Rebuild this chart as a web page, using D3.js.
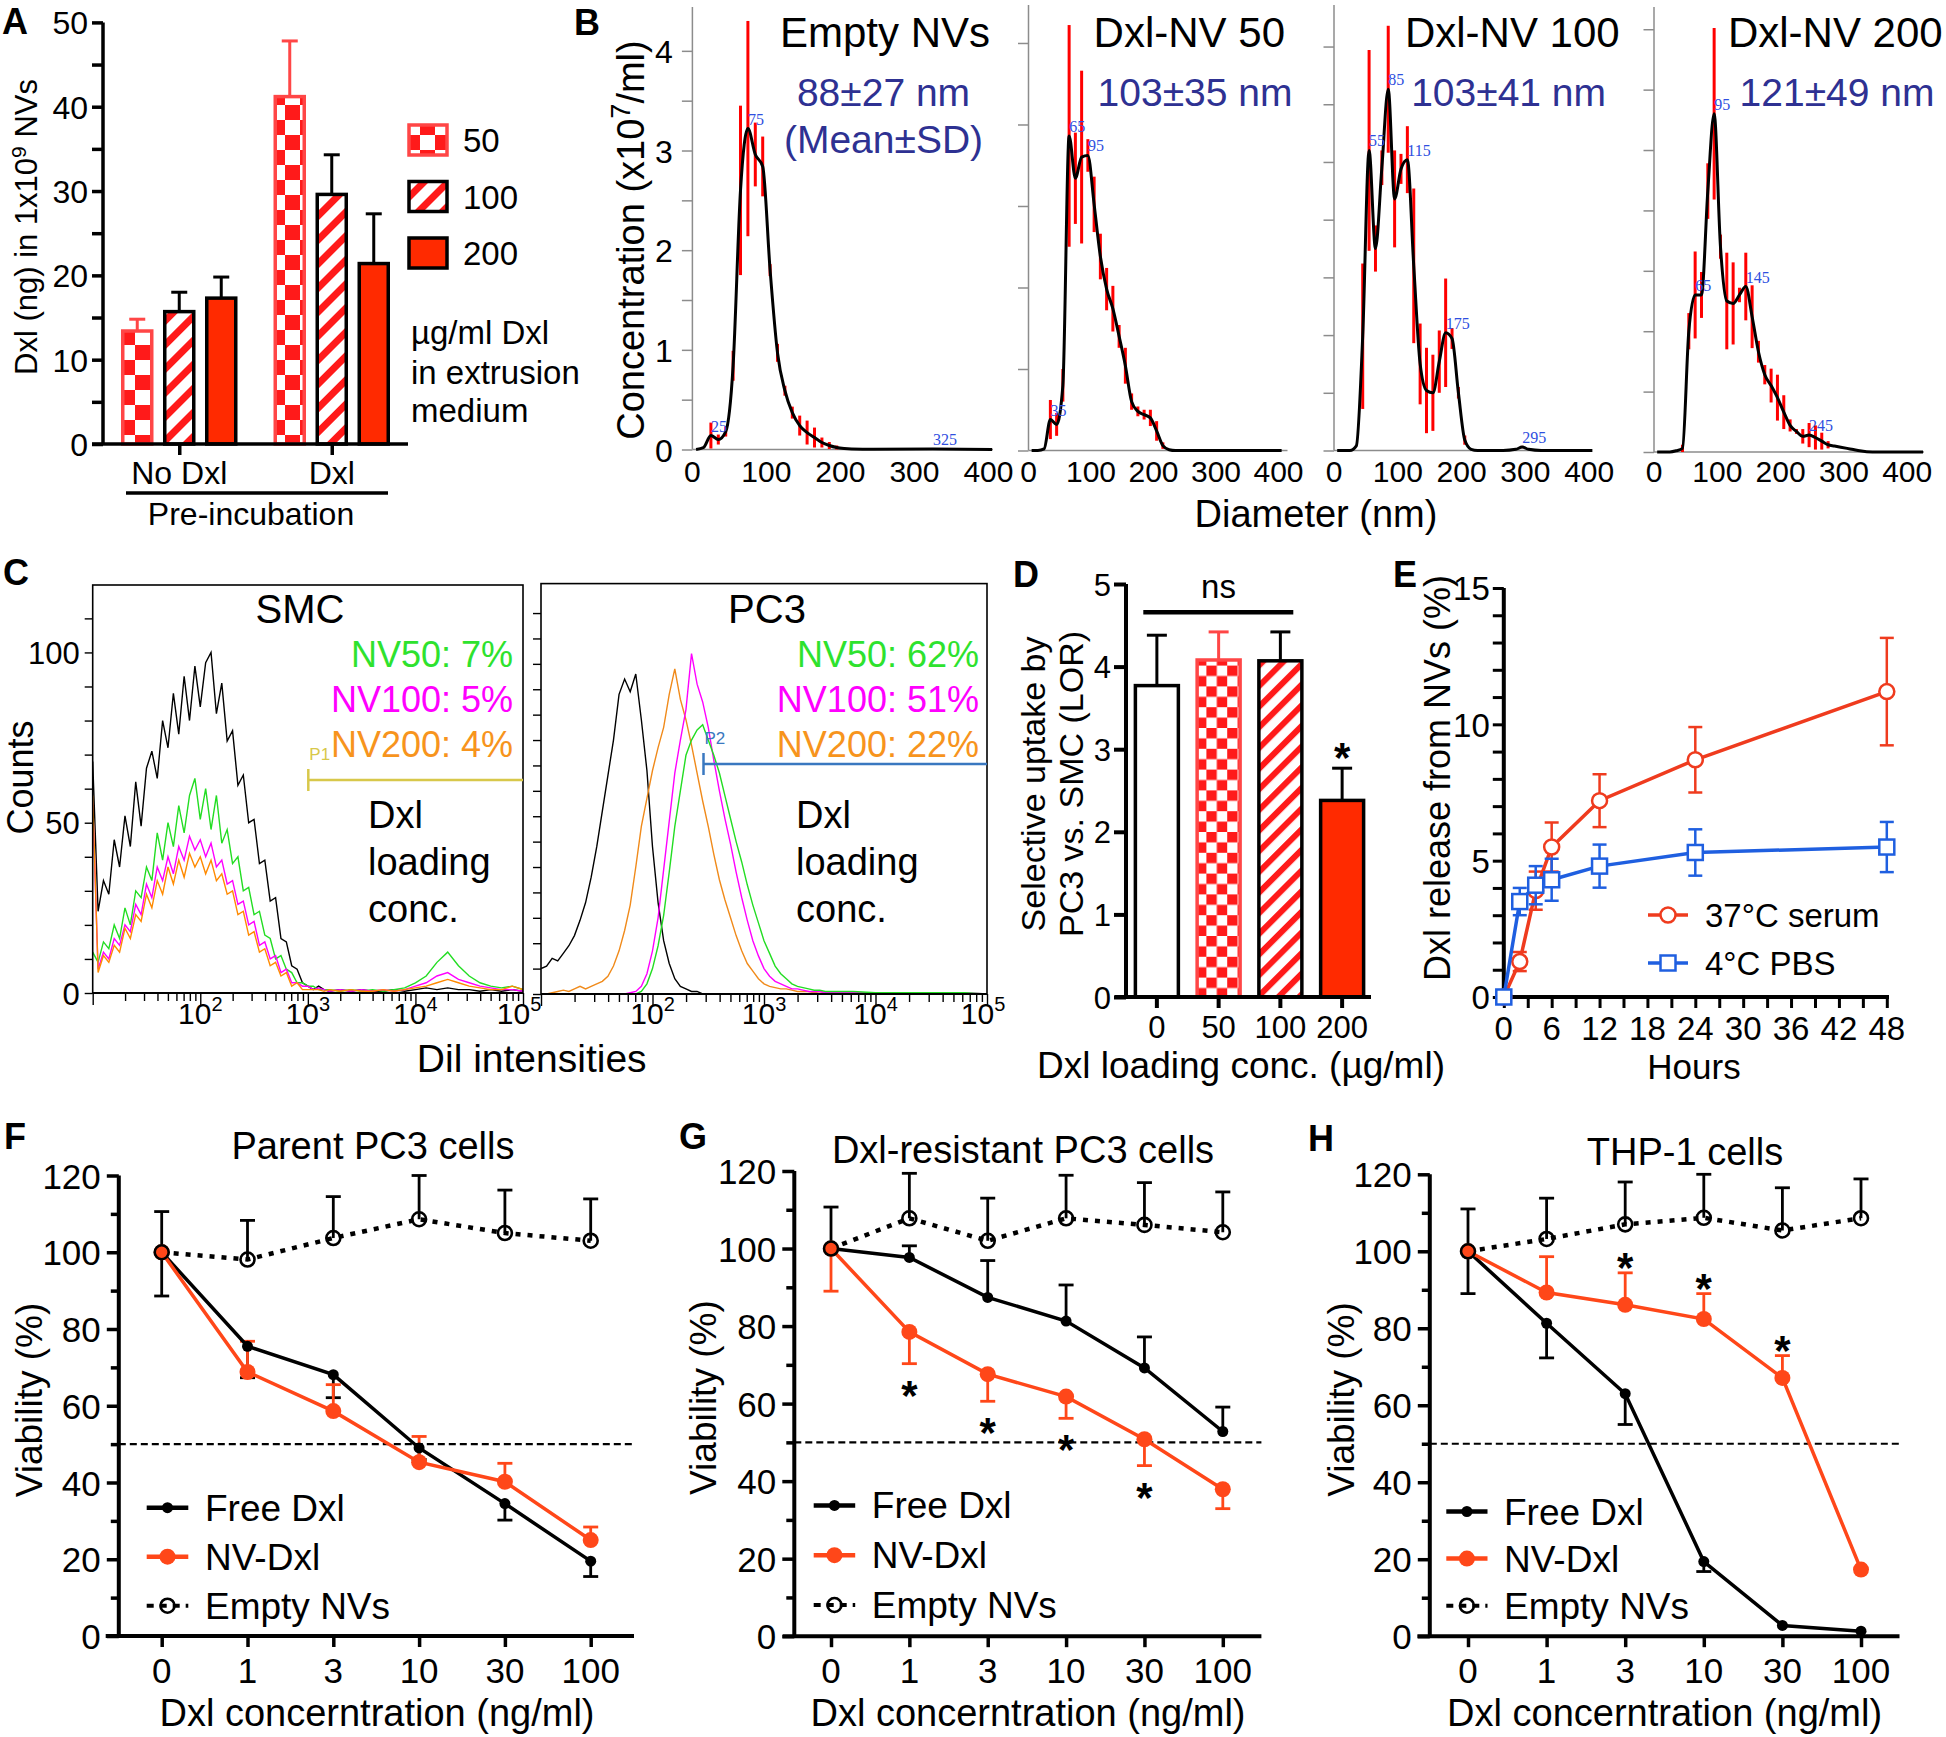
<!DOCTYPE html>
<html>
<head>
<meta charset="utf-8">
<script src="https://cdn.jsdelivr.net/npm/d3@7/dist/d3.min.js"></script>
<style>
html,body{margin:0;padding:0;background:#ffffff;}
svg{display:block;}
</style>
</head>
<body>
<svg id="fig" width="1946" height="1737"></svg>
<script>
// ================= DATA =================
// ---- Panel A ----
const aGroups = ["No Dxl", "Dxl"];
const aConc = ["50", "100", "200"];
const aMeanNoDxl = [13.4, 15.7, 17.3];
const aErrNoDxl = [1.4, 2.3, 2.5];
const aMeanDxl = [41.2, 29.6, 21.4];
const aErrDxl = [6.6, 4.7, 5.9];
const aYTicks = [0, 5, 10, 15, 20, 25, 30, 35, 40, 45, 50];
const aYLabels = [0, 10, 20, 30, 40, 50];

// ---- Panel B ----
const bTitles = ["Empty NVs", "Dxl-NV 50", "Dxl-NV 100", "Dxl-NV 200"];
const bStats = ["88±27 nm", "103±35 nm", "103±41 nm", "121±49 nm"];
const bXTicks = [0, 100, 200, 300, 400];
const b1YTicks = [0, 0.5, 1, 1.5, 2, 2.5, 3, 3.5, 4];
const b1YLabels = [0, 1, 2, 3, 4];
const b2YTicks = [0, 0.5, 1, 1.5, 2, 2.5];
const b34YTicks = [0, 0.5, 1, 1.5, 2, 2.5, 3, 3.5];
const b1Diam = [5,15,25,35,45,55,65,75,85,95,105,115,125,135,145,155,165,175,185,195,205,215,245,325,405];
const b1Mean = [0,0.02,0.14,0.10,0.18,0.84,2.6,3.22,2.96,2.84,1.8,0.97,0.59,0.37,0.24,0.17,0.12,0.07,0.04,0.02,0.01,0.005,0.002,0.004,0];
const b1Sd   = [0,0,0.13,0.05,0.05,0.15,0.85,1.08,0.32,0.3,0.06,0.09,0.05,0.06,0.1,0.12,0.1,0.05,0.035,0.02,0.01,0,0,0.005,0];
const b1Peaks = [25, 75, 325];
const b2Diam = [5,15,25,35,45,55,65,75,85,95,105,115,125,135,145,155,165,175,185,195,205,215,225,235,405];
const b2Mean = [0,0,0.01,0.19,0.16,0.4,1.93,1.67,1.8,1.81,1.51,1.19,0.99,0.87,0.7,0.52,0.3,0.24,0.22,0.2,0.12,0.03,0.005,0,0];
const b2Sd   = [0,0,0,0.12,0.07,0.1,0.68,0.28,0.53,0.1,0.17,0.14,0.13,0.14,0.07,0.11,0.05,0.03,0.03,0.05,0.06,0.02,0,0,0];
const b2Peaks = [35, 65, 95];
const b3Diam = [5,15,25,35,45,55,65,75,85,95,105,115,125,135,145,155,165,175,185,195,205,215,225,265,285,295,305,325,405];
const b3Mean = [0,0,0,0.04,0.99,2.6,1.75,2.45,3.13,2.18,2.44,2.52,1.6,0.75,0.52,0.5,0.77,1.02,0.97,0.5,0.09,0.01,0,0,0.01,0.03,0.01,0,0];
const b3Sd   = [0,0,0,0,0.63,0.87,0.2,0.15,0.55,0.42,0.13,0.29,0.67,0.35,0.37,0.33,0.27,0.47,0.09,0.05,0.04,0,0,0,0,0.01,0,0,0];
const b3Peaks = [55, 85, 115, 175, 295];
const b4Diam = [5,15,25,35,45,55,65,75,85,95,105,115,125,135,145,155,165,175,185,195,205,215,225,235,245,255,265,275,285,295,305,315,325,345,425];
const b4Mean = [0,0,0,0.01,0.03,1.0,1.3,1.3,2.16,2.8,1.7,1.25,1.23,1.3,1.37,1.12,0.83,0.64,0.55,0.45,0.33,0.22,0.17,0.13,0.14,0.12,0.09,0.06,0.05,0.04,0.03,0.02,0.01,0,0];
const b4Sd   = [0,0,0,0,0.03,0.15,0.36,0.19,0.23,0.71,0.1,0.4,0.34,0.06,0.28,0.26,0.09,0.08,0.14,0.19,0.14,0.05,0.02,0.06,0.1,0.1,0.07,0.03,0,0,0,0,0,0,0];
const b4Peaks = [65, 95, 145, 245];

// ---- Panel C (log10 of DiI intensity, counts) ----
const cSmcX = [1.00,1.05,1.10,1.15,1.20,1.25,1.30,1.35,1.40,1.45,
  1.50,1.55,1.60,1.65,1.70,1.75,1.80,1.85,1.90,1.95,
  2.00,2.05,2.10,2.15,2.20,2.25,2.30,2.35,2.40,2.45,
  2.50,2.55,2.60,2.65,2.70,2.75,2.80,2.85,2.90,2.95,
  3.00,3.05,3.10,3.15,3.20,
  3.3,3.4,3.5,3.6,3.7,3.8,3.9,4.0,4.1,4.2,
  4.3,4.4,4.5,4.6,4.7,4.8,4.9,5.0];
const cSmcBlack = [68,24,33,29,45,37,52,43,62,49,
  66,71,63,80,72,88,76,93,80,96,
  84,97,100,82,91,74,77,61,64,50,
  51,38,39,27,28,16,15,8,7,3,
  2,1,2,1,0.5,
  1,0.5,1,0.5,0.5,1,0.5,1,1.5,1,
  1.5,1,1,0.5,1,0.5,1,0.5];
const cSmcGreen = [12,9,15,13,20,16,25,20,30,28,
  37,33,47,39,50,43,55,47,58,63,
  51,60,48,58,44,48,38,40,30,31,
  23,24,17,16,10,11,7,6,3,3,
  2,2,1,1,1,
  0.5,1,0.5,1,0.5,1,1.5,3,5,9,
  12,8,5,3,2,1.5,2,1];
const cSmcMagenta = [56,7,12,10,16,14,20,18,26,23,
  32,28,37,33,40,35,43,39,46,42,
  45,40,44,37,39,32,33,26,27,20,
  21,14,15,10,11,6,7,3,3,2,
  2,1,1.5,1,0.5,
  1,0.5,1,0.5,1,0.5,1,2,3,5,
  6,4,3,2,1.5,1,1,0.5];
const cSmcOrange = [58,6,11,9,14,12,19,16,23,21,
  29,25,33,29,37,32,39,34,41,37,
  40,35,39,33,35,29,30,23,24,17,
  18,12,13,8,9,5,6,2,3,1,
  1,1,1,0.5,1,
  0.5,1,0.5,0.5,1,0.5,1,1.5,2,3,
  4,3,2,1.5,1,1,2,1];
const cPc3X = [1.00,1.05,1.10,1.15,1.20,1.25,1.30,1.35,1.40,1.45,
  1.50,1.55,1.60,1.65,1.70,1.75,1.80,1.85,1.90,1.95,
  2.00,2.05,2.10,2.15,2.20,2.25,2.30,2.35,2.40,2.45,
  2.50,2.55,2.60,2.65,2.70,2.75,2.80,2.85,2.90,2.95,
  3.00,3.05,3.10,3.15,3.20,3.25,3.30,3.35,3.40,3.45,
  3.50,3.55,3.60,
  3.8,4.0,4.2,4.4,4.6,4.8,5.0];
const cPc3Black = [10,11,14,13,16,19,23,29,36,46,
  58,72,86,100,118,124,119,126,108,88,
  58,36,21,12,6,3,2,1,1,0,
  0,0,0,0,0,0,0,0,0,0,
  0,0,0,0,0,0,0,0,0,0,
  0,0,0,
  0,0,0,0,0,0,0];
const cPc3Orange = [0,0,0.5,1,1.5,1,2,3,2,3,
  4,5,7,11,17,25,35,50,66,77,
  88,97,105,118,128,116,108,98,87,76,
  66,55,45,37,30,23,17,12,9,6,
  4,3,2.5,2,2,1.5,1,1,1,0.5,
  1,0.5,0.5,
  0.5,0.5,0.5,0,0.5,0,0];
const cPc3Magenta = [0,0,0,0,0,0,0,0,0,0,
  0,0,0,0,0,0,0.5,1,3,8,
  17,30,49,68,87,100,112,134,122,115,
  105,92,80,69,59,48,38,29,21,15,
  10,7,5,4,3,2,2,1.5,1,1,
  1,0.5,0.5,
  0.5,0.5,0,0.5,0,0.5,0];
const cPc3Green = [0,0,0,0,0,0,0,0,0,0,
  0,0,0,0,0,0,0,0,1,4,
  10,19,31,48,66,80,94,100,104,106,
  100,94,87,78,69,60,52,43,35,28,
  21,16,11,8,6,4,3,2.5,2,1.5,
  1.5,1,1,
  1,0.5,0.5,0.5,0.5,0.5,0];
const cSmcLabels = ["NV50: 7%", "NV100: 5%", "NV200: 4%"];
const cPc3Labels = ["NV50: 62%", "NV100: 51%", "NV200: 22%"];
const cSmcYTicks = [0,10,20,30,40,50,60,70,80,90,100,110];
const cSmcYLabels = [0, 50, 100];
const cPc3YTicks = [0,10,20,30,40,50,60,70,80,90,100,110,120,130,140,150];
const cXDecades = [100, 1000, 10000, 100000];
const cXSup = ["2", "3", "4", "5"];

// ---- Panel D ----
const dConc = ["0", "50", "100", "200"];
const dMean = [3.77, 4.08, 4.07, 2.38];
const dErr = [0.61, 0.34, 0.35, 0.39];
const dYTicks = [0, 1, 2, 3, 4, 5];

// ---- Panel E ----
const eHours = [0, 2, 4, 6, 12, 24, 48];
const eSerumMean = [0, 1.3, 3.9, 5.5, 7.2, 8.7, 11.2];
const eSerumErr = [0, 0.35, 0.7, 0.9, 0.97, 1.2, 1.97];
const ePbsMean = [0, 3.5, 4.1, 4.3, 4.8, 5.3, 5.5];
const ePbsErr = [0, 0.5, 0.7, 0.77, 0.79, 0.85, 0.92];
const eXTicks = [0,3,6,9,12,15,18,21,24,27,30,33,36,39,42,45,48];
const eXLabels = [0, 6, 12, 18, 24, 30, 36, 42, 48];
const eYTicks = [0,1,2,3,4,5,6,7,8,9,10,11,12,13,14,15];
const eYLabels = [0, 5, 10, 15];

// ---- Panels F, G, H ----
const vCats = ["0", "1", "3", "10", "30", "100"];
const vYTicks = [0,10,20,30,40,50,60,70,80,90,100,110,120];
const vYLabels = [0, 20, 40, 60, 80, 100, 120];
const fFree = [100, 75.5, 68.1, 49, 34.5, 19.5];
const fFreeErr = [11.4, 8.2, 6, 3, 4.3, 4];
const fNv = [100, 68.8, 58.6, 45.3, 40.2, 25];
const fNvErr = [0, 8, 6.9, 6.7, 4.8, 3.4];
const fEmpty = [100, 98.1, 103.7, 108.6, 105, 103];
const fEmptyErr = [10.6, 10.2, 10.8, 11.4, 11.2, 10.9];
const gFree = [100, 97.7, 87.4, 81.3, 69.2, 52.8];
const gFreeErr = [0, 3, 9.5, 9.3, 8, 6.3];
const gNv = [100, 78.5, 67.6, 61.8, 50.8, 37.9];
const gNvErr = [11, 8.2, 7, 5.6, 6.8, 5];
const gEmpty = [100, 107.8, 102, 107.8, 106.1, 104.2];
const gEmptyErr = [10.7, 11.6, 11, 11.1, 10.9, 10.4];
const gStars = ["1", "3", "10", "30"];
const hFree = [100, 81.3, 63, 19.4, 2.8, 1.3];
const hFreeErr = [11, 9, 8, 2.6, 0, 0];
const hNv = [100, 89.3, 86.1, 82.4, 67.1, 17.3];
const hNvErr = [0, 9.3, 8.3, 6.6, 5.8, 0];
const hEmpty = [100, 103.2, 107, 108.7, 105.4, 108.6];
const hEmptyErr = [11, 10.6, 11, 11.3, 11.1, 10.2];
const hStars = ["3", "10", "30"];
const vLegend = ["Free Dxl", "NV-Dxl", "Empty NVs"];

// ================= RENDER =================
const FONT = "'Liberation Sans', Arial, Helvetica, sans-serif";
const SERIF = "'Liberation Serif', 'Times New Roman', serif";
const RED = "#ff1a1a", RED_SOLID = "#ff2a00", RED_LIGHT = "#ff4646";
const NV_COL = "#ff4719";
const svg = d3.select("#fig").attr("font-family", FONT);
svg.append("rect").attr("width", 1946).attr("height", 1737).attr("fill", "#fff");
const defs = svg.append("defs");

function checker(id, s, color) {
  const p = defs.append("pattern").attr("id", id).attr("patternUnits", "userSpaceOnUse")
    .attr("width", 2 * s).attr("height", 2 * s);
  p.append("rect").attr("width", 2 * s).attr("height", 2 * s).attr("fill", "#fff");
  p.append("rect").attr("width", s).attr("height", s).attr("fill", color);
  p.append("rect").attr("x", s).attr("y", s).attr("width", s).attr("height", s).attr("fill", color);
}
function stripes(id, period, w, color) {
  const p = defs.append("pattern").attr("id", id).attr("patternUnits", "userSpaceOnUse")
    .attr("width", period).attr("height", period).attr("patternTransform", "rotate(45)");
  p.append("rect").attr("width", period).attr("height", period).attr("fill", "#fff");
  p.append("rect").attr("width", w).attr("height", period).attr("fill", color);
}
checker("checkA", 15, RED);
stripes("stripeA", 17, 7, RED);
checker("checkD", 10.4, RED);
stripes("stripeD", 14.6, 6, RED);

function txt(g, x, y, s, fs, o = {}) {
  const t = g.append("text").attr("x", x).attr("y", y).attr("font-size", fs)
    .attr("text-anchor", o.anchor || "start").attr("fill", o.fill || "#000");
  if (o.weight) t.attr("font-weight", o.weight);
  if (o.family) t.attr("font-family", o.family);
  if (o.rotate) t.attr("transform", `rotate(${o.rotate},${x},${y})`);
  if (s !== null) t.text(s);
  return t;
}
function ln(g, x1, y1, x2, y2, stroke, w, dash) {
  const l = g.append("line").attr("x1", x1).attr("y1", y1).attr("x2", x2).attr("y2", y2)
    .attr("stroke", stroke).attr("stroke-width", w);
  if (dash) l.attr("stroke-dasharray", dash);
  return l;
}
function errBar(g, cx, y1, y2, cap, color, w) {
  ln(g, cx, y1, cx, y2, color, w);
  ln(g, cx - cap / 2, y2, cx + cap / 2, y2, color, w);
}
function styleAxis(ax, fs, stroke, w) {
  ax.attr("font-family", FONT).attr("font-size", fs);
  ax.select(".domain").remove();
  ax.selectAll(".tick line").attr("stroke", stroke).attr("stroke-width", w);
  ax.selectAll(".tick text").attr("fill", "#000");
}
function panelLabel(s, x, y) { txt(svg, x, y, s, 36, { weight: "bold" }); }

// ---------- Panel A ----------
(function () {
  const g = svg.append("g");
  const y = d3.scaleLinear().domain([0, 50]).range([444, 22.4]);
  const x0 = d3.scalePoint().domain(aGroups).range([103, 408]).padding(0.5);
  const x1 = d3.scalePoint().domain(aConc).range([-42, 42]);
  const bw = 29;
  const means = [aMeanNoDxl, aMeanDxl], errs = [aErrNoDxl, aErrDxl];
  const fills = { "50": "url(#checkA)", "100": "url(#stripeA)", "200": RED_SOLID };
  const strokes = { "50": RED_LIGHT, "100": "#000", "200": "#000" };
  aGroups.forEach((grp, gi) => {
    aConc.forEach((c, ci) => {
      const cx = x0(grp) + x1(c), v = means[gi][ci], e = errs[gi][ci];
      errBar(g, cx, y(v), y(v + e), 16, c === "50" ? RED_LIGHT : "#000", 3);
      g.append("rect").attr("x", cx - bw / 2).attr("y", y(v)).attr("width", bw)
        .attr("height", y(0) - y(v)).attr("fill", fills[c]).attr("stroke", strokes[c]).attr("stroke-width", 3.5);
    });
  });
  const ya = g.append("g").attr("transform", "translate(103,0)")
    .call(d3.axisLeft(y).tickValues(aYTicks).tickSize(11).tickPadding(4)
      .tickFormat(d => aYLabels.includes(d) ? d : ""));
  styleAxis(ya, 32, "#000", 3.5);
  ya.selectAll(".tick text").attr("dy", "0.36em");
  ln(g, 103, y(0), 103, y(50), "#000", 3.5);
  ln(g, 92, y(0), 408, y(0), "#000", 3.5);
  const xa = g.append("g").attr("transform", `translate(0,${y(0)})`)
    .call(d3.axisBottom(x0).tickSize(11).tickFormat(""));
  styleAxis(xa, 32, "#000", 3.5);
  aGroups.forEach(grp => txt(g, x0(grp), 484, grp, 32, { anchor: "middle" }));
  ln(g, 126, 493, 388, 493, "#000", 3.5);
  txt(g, 251, 525, "Pre-incubation", 32, { anchor: "middle" });
  const yt = txt(g, 37, 227, null, 31, { anchor: "middle", rotate: -90 });
  yt.append("tspan").text("Dxl (ng) in 1x10");
  yt.append("tspan").attr("dy", -11).attr("font-size", 21).text("9");
  yt.append("tspan").attr("dy", 11).text(" NVs");
  const ly = d3.scalePoint().domain(aConc).range([140, 253]);
  aConc.forEach(c => {
    g.append("rect").attr("x", 409).attr("y", ly(c) - 15).attr("width", 38).attr("height", 30)
      .attr("fill", fills[c]).attr("stroke", strokes[c]).attr("stroke-width", 3.5);
    txt(g, 463, ly(c) + 12, c, 33);
  });
  txt(g, 411, 344, "µg/ml Dxl", 33);
  txt(g, 411, 384, "in extrusion", 33);
  txt(g, 411, 422, "medium", 33);
  panelLabel("A", 2, 34);
})();

// ---------- Panel B ----------
(function () {
  const panels = [
    { diam: b1Diam, mean: b1Mean, sd: b1Sd, peaks: b1Peaks, yTicks: b1YTicks, yLabels: b1YLabels },
    { diam: b2Diam, mean: b2Mean, sd: b2Sd, peaks: b2Peaks, yTicks: b2YTicks, yLabels: [] },
    { diam: b3Diam, mean: b3Mean, sd: b3Sd, peaks: b3Peaks, yTicks: b34YTicks, yLabels: [] },
    { diam: b4Diam, mean: b4Mean, sd: b4Sd, peaks: b4Peaks, yTicks: b34YTicks, yLabels: [] }
  ];
  const layout = [
    { x0: 692.4, x1: 993, xMax: 406.2, y0: 449.5, yTop: 7, yMax: 4.44, titleX: 990, statX: 883.5 },
    { x0: 1028.5, x1: 1287.5, xMax: 414.4, y0: 450.5, yTop: 5, yMax: 2.733, titleX: 1285, statX: 1195 },
    { x0: 1334, x1: 1592, xMax: 404.4, y0: 450.5, yTop: 5, yMax: 3.86, titleX: 1619.7, statX: 1508.6 },
    { x0: 1654, x1: 1924, xMax: 426.5, y0: 452, yTop: 7, yMax: 3.684, titleX: 1942.7, statX: 1837 }
  ];
  panels.forEach((p, i) => {
    const L = layout[i];
    const g = svg.append("g");
    const x = d3.scaleLinear().domain([0, L.xMax]).range([L.x0, L.x1]);
    const y = d3.scaleLinear().domain([0, L.yMax]).range([L.y0, L.yTop]);
    ln(g, L.x0, L.y0, L.x0, L.yTop, "#8c8c8c", 1.5);
    ln(g, L.x0, L.y0, L.x1, L.y0, "#8c8c8c", 1.5);
    const ya = g.append("g").attr("transform", `translate(${L.x0},0)`)
      .call(d3.axisLeft(y).tickValues(p.yTicks).tickSize(10.5).tickPadding(9)
        .tickFormat(d => p.yLabels.includes(d) ? d : ""));
    styleAxis(ya, 32, "#8c8c8c", 1.5);
    ya.selectAll(".tick text").attr("dy", "0.36em");
    bXTicks.forEach(v => txt(g, x(v), 482, String(v), 30, { anchor: "middle" }));
    const pts = p.diam.map((d, k) => ({ d, m: p.mean[k], s: p.sd[k] }));
    pts.filter(q => q.s > 0).forEach(q => {
      ln(g, x(q.d), y(Math.max(0, q.m - q.s)), x(q.d), y(q.m + q.s), "#ff0000", 3);
    });
    g.append("path").datum(pts)
      .attr("d", d3.line().x(q => x(q.d)).y(q => y(q.m)).curve(d3.curveMonotoneX))
      .attr("fill", "none").attr("stroke", "#000").attr("stroke-width", 3).attr("stroke-linejoin", "round");
    p.peaks.forEach(pk => {
      const q = pts.find(r => r.d === pk);
      txt(g, x(pk), y(q.m) - 4, String(pk), 16, { family: SERIF, fill: "#2f4fe0" });
    });
    txt(g, L.titleX, 46.7, bTitles[i], 42, { anchor: "end" });
    txt(g, L.statX, 106, bStats[i], 39, { anchor: "middle", fill: "#2e3192" });
  });
  txt(svg, 883.5, 152.7, "(Mean±SD)", 39, { anchor: "middle", fill: "#2e3192" });
  const yt = txt(svg, 644, 240, null, 38, { anchor: "middle", rotate: -90 });
  yt.append("tspan").text("Concentration (x10");
  yt.append("tspan").attr("dy", -14).attr("font-size", 27).text("7");
  yt.append("tspan").attr("dy", 14).text("/ml)");
  txt(svg, 1316, 527, "Diameter (nm)", 38, { anchor: "middle" });
  panelLabel("B", 574, 35);
})();

// ---------- Panel C ----------
(function () {
  const boxes = [
    { x0: 92.7, x1: 523, yTop: 585, yBot: 993, yMax: 119.8, yTicks: cSmcYTicks, yLabels: cSmcYLabels,
      xs: cSmcX, series: [[cSmcBlack, "#000"], [cSmcGreen, "#22dd22"], [cSmcMagenta, "#ff00ff"], [cSmcOrange, "#ff8a00"]],
      title: "SMC", titleX: 300, labels: cSmcLabels, labelX: 513, textX: 368,
      gate: { x: 308.3, y: 780, col: "#d8c84a", name: "P1" } },
    { x0: 541, x1: 987, yTop: 583.6, yBot: 994, yMax: 161.6, yTicks: cPc3YTicks, yLabels: [],
      xs: cPc3X, series: [[cPc3Black, "#000"], [cPc3Orange, "#f08a1a"], [cPc3Magenta, "#ff00ff"], [cPc3Green, "#22dd22"]],
      title: "PC3", titleX: 767, labels: cPc3Labels, labelX: 979, textX: 796,
      gate: { x: 703.5, y: 764, col: "#3a78c0", name: "P2" } }
  ];
  const labelCols = ["#2ee22e", "#ff00ff", "#f7941d"];
  boxes.forEach((B, bi) => {
    const g = svg.append("g");
    const x = d3.scaleLog().domain([10, 100000]).range([B.x0, B.x1]);
    const y = d3.scaleLinear().domain([0, B.yMax]).range([B.yBot, B.yTop]);
    const cid = "clipC" + bi;
    defs.append("clipPath").attr("id", cid).append("rect")
      .attr("x", B.x0).attr("y", B.yTop).attr("width", B.x1 - B.x0).attr("height", B.yBot - B.yTop);
    B.series.forEach(([vals, col]) => {
      const pts = B.xs.map((lx, k) => [lx, vals[k]]).filter(q => q[1] !== undefined);
      g.append("path").datum(pts).attr("clip-path", `url(#${cid})`)
        .attr("d", d3.line().x(q => x(Math.pow(10, q[0]))).y(q => y(q[1])))
        .attr("fill", "none").attr("stroke", col).attr("stroke-width", 1.4);
    });
    g.append("rect").attr("x", B.x0).attr("y", B.yTop).attr("width", B.x1 - B.x0)
      .attr("height", B.yBot - B.yTop).attr("fill", "none").attr("stroke", "#000").attr("stroke-width", 1.6);
    ln(g, B.x0, B.yBot, B.x1, B.yBot, "#000", 2.2);
    const ya = g.append("g").attr("transform", `translate(${B.x0},0)`)
      .call(d3.axisLeft(y).tickValues(B.yTicks).tickSize(8).tickPadding(5)
        .tickFormat(d => B.yLabels.includes(d) ? d : ""));
    styleAxis(ya, 31, "#000", 1.4);
    ya.selectAll(".tick text").attr("dy", "0.36em");
    const allT = x.ticks();
    const xa = g.append("g").attr("transform", `translate(0,${B.yBot})`)
      .call(d3.axisBottom(x).tickValues(allT).tickSize(8).tickFormat(""));
    styleAxis(xa, 30, "#000", 1.4);
    xa.selectAll(".tick line").attr("y2", d => Math.abs(Math.log10(d) - Math.round(Math.log10(d))) < 1e-6 ? 12 : 8);
    cXDecades.forEach((v, k) => {
      const t = txt(g, Math.min(x(v), B.x1 - 4), 1024, null, 30, { anchor: "middle" });
      t.append("tspan").text("10");
      t.append("tspan").attr("dy", -13).attr("font-size", 20).text(cXSup[k]);
    });
    ln(g, B.gate.x, B.gate.y, B.x1, B.gate.y, B.gate.col, 2.5);
    ln(g, B.gate.x, B.gate.y - 11, B.gate.x, B.gate.y + 11, B.gate.col, 2.5);
    txt(g, B.gate.x + 1, B.gate.y - 20, B.gate.name, 17, { fill: B.gate.col });
    txt(g, B.titleX, 623.3, B.title, 40, { anchor: "middle" });
    const ly = d3.scalePoint().domain(B.labels).range([666.7, 756.7]);
    B.labels.forEach((s, k) => txt(g, B.labelX, ly(s), s, 36, { anchor: "end", fill: labelCols[k] }));
    txt(g, B.textX, 828.3, "Dxl", 38);
    txt(g, B.textX, 875, "loading", 38);
    txt(g, B.textX, 921.7, "conc.", 38);
  });
  txt(svg, 531.7, 1072, "Dil intensities", 39, { anchor: "middle" });
  txt(svg, 33, 777.5, "Counts", 36, { anchor: "middle", rotate: -90 });
  panelLabel("C", 3, 585);
})();

// ---------- Panel D ----------
(function () {
  const g = svg.append("g");
  const y = d3.scaleLinear().domain([0, 5]).range([997, 584]);
  const x = d3.scaleBand().domain(dConc).range([1126, 1373]).paddingInner(0.304).paddingOuter(0.152);
  const fills = ["#fff", "url(#checkD)", "url(#stripeD)", RED_SOLID];
  const strokes = ["#000", RED_LIGHT, "#000", "#000"];
  dConc.forEach((c, i) => {
    const cx = x(c) + x.bandwidth() / 2;
    errBar(g, cx, y(dMean[i]), y(dMean[i] + dErr[i]), 20, i === 1 ? RED_LIGHT : "#000", 3);
    g.append("rect").attr("x", x(c)).attr("y", y(dMean[i])).attr("width", x.bandwidth())
      .attr("height", y(0) - y(dMean[i])).attr("fill", fills[i]).attr("stroke", strokes[i]).attr("stroke-width", 3.5);
  });
  ln(g, 1126, y(0), 1126, y(5), "#000", 4);
  ln(g, 1114.6, y(0), 1371, y(0), "#000", 4);
  const ya = g.append("g").attr("transform", "translate(1126,0)")
    .call(d3.axisLeft(y).tickValues(dYTicks).tickSize(12).tickPadding(3).tickFormat(d3.format("d")));
  styleAxis(ya, 31, "#000", 4);
  ya.selectAll(".tick text").attr("dy", "0.36em");
  const xa = g.append("g").attr("transform", `translate(0,${y(0)})`)
    .call(d3.axisBottom(x).tickSize(11).tickFormat(""));
  styleAxis(xa, 31, "#000", 4);
  dConc.forEach(c => txt(g, x(c) + x.bandwidth() / 2, 1038, c, 31, { anchor: "middle" }));
  ln(g, 1143.3, 612.3, 1293.3, 612.3, "#000", 4.5);
  txt(g, 1218.5, 598.3, "ns", 33, { anchor: "middle" });
  txt(g, x("200") + x.bandwidth() / 2, y(dMean[3] + dErr[3]) + 4, "*", 42, { anchor: "middle", weight: "bold" });
  txt(g, 1241, 1077.5, "Dxl loading conc. (µg/ml)", 37, { anchor: "middle" });
  txt(g, 1045, 784, "Selective uptake by", 34, { anchor: "middle", rotate: -90 });
  txt(g, 1083, 784, "PC3 vs. SMC (LOR)", 34, { anchor: "middle", rotate: -90 });
  panelLabel("D", 1013, 586.7);
})();

// ---------- Panel E ----------
(function () {
  const g = svg.append("g");
  const x = d3.scaleLinear().domain([0, 48]).range([1503.8, 1886.8]);
  const y = d3.scaleLinear().domain([0, 15]).range([997, 588]);
  ln(g, x(0), y(0), x(0), y(15), "#000", 4);
  ln(g, x(0), y(0), 1889, y(0), "#000", 4);
  const ya = g.append("g").attr("transform", `translate(${x(0)},0)`)
    .call(d3.axisLeft(y).tickValues(eYTicks).tickSize(11).tickPadding(3)
      .tickFormat(d => eYLabels.includes(d) ? d : ""));
  styleAxis(ya, 33, "#000", 3);
  ya.selectAll(".tick text").attr("dy", "0.36em");
  const xa = g.append("g").attr("transform", `translate(0,${y(0)})`)
    .call(d3.axisBottom(x).tickValues(eXTicks).tickSize(11).tickFormat(""));
  styleAxis(xa, 33, "#000", 3);
  eXLabels.forEach(v => txt(g, x(v), 1040, String(v), 33, { anchor: "middle" }));
  const series = [
    { m: eSerumMean, e: eSerumErr, col: "#ef3b1e", shape: "circle" },
    { m: ePbsMean, e: ePbsErr, col: "#1f5fe0", shape: "square" }
  ];
  function marker(gg, cx, cy, s) {
    if (s.shape === "circle") gg.append("circle").attr("cx", cx).attr("cy", cy).attr("r", 7.5)
      .attr("fill", "#fff").attr("stroke", s.col).attr("stroke-width", 2.5);
    else gg.append("rect").attr("x", cx - 7.5).attr("y", cy - 7.5).attr("width", 15).attr("height", 15)
      .attr("fill", "#fff").attr("stroke", s.col).attr("stroke-width", 2.5);
  }
  series.forEach(s => {
    eHours.forEach((h, i) => {
      if (s.e[i] > 0) {
        errBar(g, x(h), y(s.m[i]), y(s.m[i] + s.e[i]), 14, s.col, 2.5);
        errBar(g, x(h), y(s.m[i]), y(s.m[i] - s.e[i]), 14, s.col, 2.5);
      }
    });
    g.append("path").datum(eHours.map((h, i) => [h, s.m[i]]))
      .attr("d", d3.line().x(d => x(d[0])).y(d => y(d[1])))
      .attr("fill", "none").attr("stroke", s.col).attr("stroke-width", 3.5);
    eHours.forEach((h, i) => marker(g, x(h), y(s.m[i]), s));
  });
  const legNames = ["37°C serum", "4°C PBS"];
  const legY = d3.scalePoint().domain(legNames).range([915, 963]);
  series.forEach((s, k) => {
    const ly = legY(legNames[k]);
    ln(g, 1648, ly, 1688, ly, s.col, 3.5);
    marker(g, 1668, ly, s);
    txt(g, 1705, ly + 12, legNames[k], 33);
  });
  txt(g, 1694, 1079, "Hours", 35, { anchor: "middle" });
  txt(g, 1450, 778, "Dxl release from NVs (%)", 36, { anchor: "middle", rotate: -90 });
  panelLabel("E", 1393, 586.7);
})();

// ---------- Panels F, G, H ----------
function drawViability(cfg) {
  const g = svg.append("g");
  const x = d3.scalePoint().domain(vCats).range(cfg.xRange);
  const y = d3.scaleLinear().domain([0, 120]).range([cfg.y0, cfg.yTop]);
  ln(g, cfg.ax, y(0), cfg.ax, y(120), "#000", 4);
  ln(g, cfg.axStart, y(0), cfg.axEnd, y(0), "#000", 4);
  const ya = g.append("g").attr("transform", `translate(${cfg.ax},0)`)
    .call(d3.axisLeft(y).tickValues(vYTicks).tickSize(12).tickPadding(6)
      .tickFormat(d => vYLabels.includes(d) ? d : ""));
  styleAxis(ya, 35, "#000", 3.5);
  ya.selectAll(".tick line").attr("x2", d => vYLabels.includes(d) ? -12 : -8);
  ya.selectAll(".tick text").attr("dy", "0.36em");
  const xa = g.append("g").attr("transform", `translate(0,${y(0)})`)
    .call(d3.axisBottom(x).tickSize(11).tickFormat(""));
  styleAxis(xa, 35, "#000", 3.5);
  vCats.forEach(c => txt(g, x(c), 1683, c, 35, { anchor: "middle" }));
  ln(g, cfg.ax, y(50), cfg.axEnd, y(50), "#000", 2.2, "7,4");
  const S = [
    { key: "empty", m: cfg.empty, e: cfg.emptyErr, dir: -1, col: "#000", err: "#000" },
    { key: "free", m: cfg.free, e: cfg.freeErr, dir: cfg.freeDir, col: "#000", err: "#000" },
    { key: "nv", m: cfg.nv, e: cfg.nvErr, dir: cfg.nvDir, col: NV_COL, err: NV_COL }
  ];
  S.forEach(s => vCats.forEach((c, i) => {
    if (s.e[i] > 0) errBar(g, x(c), y(s.m[i]), y(s.m[i] - s.dir * s.e[i]), 15, s.err, 2.8);
  }));
  const lineGen = d3.line().x(d => x(d[0])).y(d => y(d[1]));
  S.forEach(s => {
    const p = g.append("path").datum(vCats.map((c, i) => [c, s.m[i]])).attr("d", lineGen)
      .attr("fill", "none").attr("stroke", s.col);
    if (s.key === "empty") p.attr("stroke-width", 4.5).attr("stroke-dasharray", "5,7");
    else p.attr("stroke-width", 3.5);
  });
  function mark(gg, cx, cy, key) {
    if (key === "free") gg.append("circle").attr("cx", cx).attr("cy", cy).attr("r", 5.5).attr("fill", "#000");
    else if (key === "nv") gg.append("circle").attr("cx", cx).attr("cy", cy).attr("r", 8).attr("fill", NV_COL);
    else gg.append("circle").attr("cx", cx).attr("cy", cy).attr("r", 7).attr("fill", "none")
      .attr("stroke", "#000").attr("stroke-width", 2.6);
  }
  ["free", "nv", "empty"].forEach(k => {
    const s = S.find(q => q.key === k);
    vCats.forEach((c, i) => mark(g, x(c), y(s.m[i]), k));
  });
  cfg.stars.forEach(c => {
    const i = vCats.indexOf(c);
    const edge = y(cfg.nv[i] - cfg.nvDir * cfg.nvErr[i]);
    const cy = cfg.nvDir > 0 ? edge + 22 : edge - 15;
    txt(g, x(c), cy + 24, "*", 42, { anchor: "middle", weight: "bold" });
  });
  const ly = d3.scalePoint().domain(vLegend).range(cfg.legY);
  const keys = ["free", "nv", "empty"];
  vLegend.forEach((name, k) => {
    const yy = ly(name), s = S.find(q => q.key === keys[k]);
    const l = ln(g, cfg.legX[0], yy, cfg.legX[1], yy, s.col, keys[k] === "empty" ? 4 : 4.5);
    if (keys[k] === "empty") l.attr("stroke-dasharray", "7,6");
    mark(g, (cfg.legX[0] + cfg.legX[1]) / 2, yy, keys[k]);
    txt(g, cfg.legTextX, yy + 13, name, 37);
  });
  txt(g, cfg.titleX, cfg.titleY, cfg.title, 38, { anchor: "middle" });
  txt(g, cfg.xLabelX, 1725.5, "Dxl concerntration (ng/ml)", 38, { anchor: "middle" });
  txt(g, cfg.yLabelX, cfg.yLabelY, "Viability (%)", 37, { anchor: "middle", rotate: -90 });
  panelLabel(cfg.label, cfg.labelX, cfg.labelY);
}
drawViability({ ax: 118.8, y0: 1636, yTop: 1175.5, xRange: [161.7, 590.7], axStart: 105.7, axEnd: 634,
  free: fFree, freeErr: fFreeErr, freeDir: 1, nv: fNv, nvErr: fNvErr, nvDir: -1, empty: fEmpty, emptyErr: fEmptyErr,
  stars: [], legX: [146.7, 188.3], legTextX: 205, legY: [1507.7, 1605.7],
  title: "Parent PC3 cells", titleX: 373, titleY: 1159, xLabelX: 377, yLabelX: 42, yLabelY: 1400,
  label: "F", labelX: 4, labelY: 1148.7 });
drawViability({ ax: 794.3, y0: 1636.2, yTop: 1171, xRange: [831, 1222.8], axStart: 782.6, axEnd: 1261.4,
  free: gFree, freeErr: gFreeErr, freeDir: -1, nv: gNv, nvErr: gNvErr, nvDir: 1, empty: gEmpty, emptyErr: gEmptyErr,
  stars: gStars, legX: [813.7, 855.2], legTextX: 871.8, legY: [1505.4, 1605],
  title: "Dxl-resistant PC3 cells", titleX: 1023, titleY: 1163, xLabelX: 1028, yLabelX: 716, yLabelY: 1397.6,
  label: "G", labelX: 679, labelY: 1148.7 });
drawViability({ ax: 1429.8, y0: 1636.2, yTop: 1174.3, xRange: [1468, 1861], axStart: 1417.4, axEnd: 1899.5,
  free: hFree, freeErr: hFreeErr, freeDir: 1, nv: hNv, nvErr: hNvErr, nvDir: -1, empty: hEmpty, emptyErr: hEmptyErr,
  stars: hStars, legX: [1446.3, 1487.5], legTextX: 1504, legY: [1511.5, 1605.7],
  title: "THP-1 cells", titleX: 1685, titleY: 1165, xLabelX: 1664.6, yLabelX: 1354, yLabelY: 1399.5,
  label: "H", labelX: 1308, labelY: 1150.8 });
</script>
</body>
</html>
